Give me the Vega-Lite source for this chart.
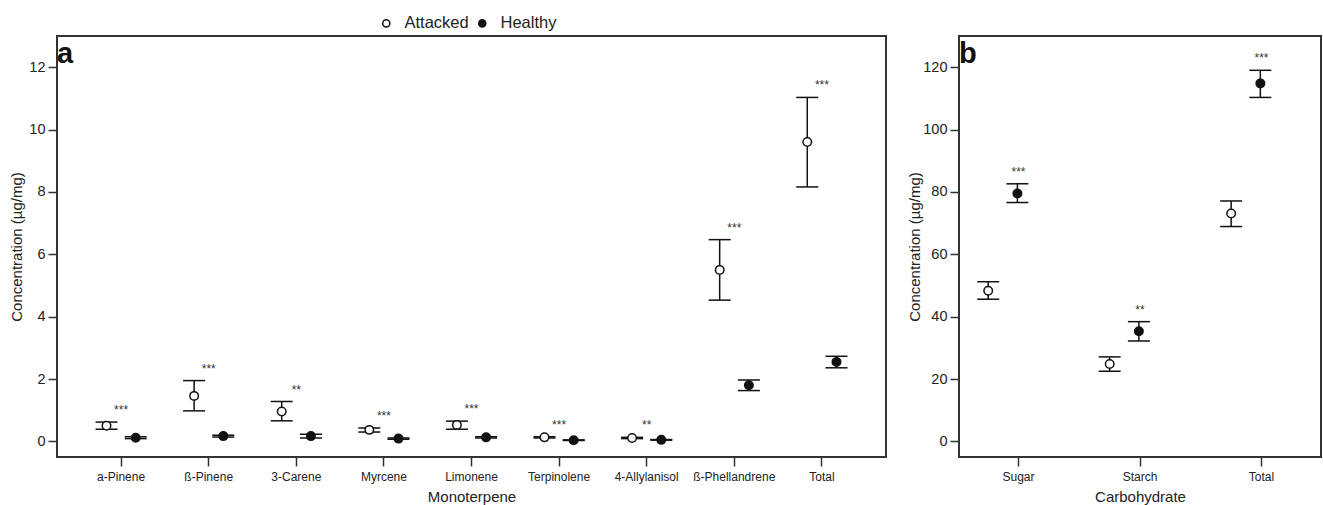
{
  "$schema": "https://vega.github.io/schema/vega-lite/v6.json",
  "background": "white",
  "padding": {"left": 8, "top": 15, "right": 2, "bottom": 2},
  "datasets": {
    "mono": [
      {"cat": "a-Pinene", "group": "Attacked", "mean": 0.50, "lo": 0.39, "hi": 0.62},
      {"cat": "a-Pinene", "group": "Healthy", "mean": 0.12, "lo": 0.09, "hi": 0.15},
      {"cat": "ß-Pinene", "group": "Attacked", "mean": 1.46, "lo": 0.98, "hi": 1.95},
      {"cat": "ß-Pinene", "group": "Healthy", "mean": 0.17, "lo": 0.14, "hi": 0.20},
      {"cat": "3-Carene", "group": "Attacked", "mean": 0.96, "lo": 0.66, "hi": 1.28},
      {"cat": "3-Carene", "group": "Healthy", "mean": 0.17, "lo": 0.11, "hi": 0.23},
      {"cat": "Myrcene", "group": "Attacked", "mean": 0.37, "lo": 0.30, "hi": 0.43},
      {"cat": "Myrcene", "group": "Healthy", "mean": 0.09, "lo": 0.07, "hi": 0.11},
      {"cat": "Limonene", "group": "Attacked", "mean": 0.53, "lo": 0.39, "hi": 0.65},
      {"cat": "Limonene", "group": "Healthy", "mean": 0.13, "lo": 0.11, "hi": 0.15},
      {"cat": "Terpinolene", "group": "Attacked", "mean": 0.13, "lo": 0.11, "hi": 0.15},
      {"cat": "Terpinolene", "group": "Healthy", "mean": 0.04, "lo": 0.03, "hi": 0.05},
      {"cat": "4-Allylanisol", "group": "Attacked", "mean": 0.11, "lo": 0.09, "hi": 0.13},
      {"cat": "4-Allylanisol", "group": "Healthy", "mean": 0.05, "lo": 0.04, "hi": 0.06},
      {"cat": "ß-Phellandrene", "group": "Attacked", "mean": 5.50, "lo": 4.53, "hi": 6.47},
      {"cat": "ß-Phellandrene", "group": "Healthy", "mean": 1.80, "lo": 1.63, "hi": 1.97},
      {"cat": "Total", "group": "Attacked", "mean": 9.60, "lo": 8.16, "hi": 11.03},
      {"cat": "Total", "group": "Healthy", "mean": 2.55, "lo": 2.36, "hi": 2.73}
    ],
    "monoSig": [
      {"cat": "a-Pinene", "y": 1.11, "label": "***"},
      {"cat": "ß-Pinene", "y": 2.42, "label": "***"},
      {"cat": "3-Carene", "y": 1.76, "label": "**"},
      {"cat": "Myrcene", "y": 0.91, "label": "***"},
      {"cat": "Limonene", "y": 1.14, "label": "***"},
      {"cat": "Terpinolene", "y": 0.62, "label": "***"},
      {"cat": "4-Allylanisol", "y": 0.62, "label": "**"},
      {"cat": "ß-Phellandrene", "y": 6.94, "label": "***"},
      {"cat": "Total", "y": 11.52, "label": "***"}
    ],
    "carb": [
      {"cat": "Sugar", "group": "Attacked", "mean": 48.3, "lo": 45.6, "hi": 51.2},
      {"cat": "Sugar", "group": "Healthy", "mean": 79.5, "lo": 76.6, "hi": 82.6},
      {"cat": "Starch", "group": "Attacked", "mean": 24.8, "lo": 22.5, "hi": 27.1},
      {"cat": "Starch", "group": "Healthy", "mean": 35.3, "lo": 32.2, "hi": 38.4},
      {"cat": "Total", "group": "Attacked", "mean": 73.1, "lo": 68.9, "hi": 77.1},
      {"cat": "Total", "group": "Healthy", "mean": 114.8, "lo": 110.3, "hi": 119.0}
    ],
    "carbSig": [
      {"cat": "Sugar", "y": 87.4, "label": "***"},
      {"cat": "Starch", "y": 43.2, "label": "**"},
      {"cat": "Total", "y": 124.0, "label": "***"}
    ]
  },
  "hconcat": [
    {
      "width": 829,
      "height": 421,
      "encoding": {
        "x": {"field": "cat", "type": "nominal", "title": "Monoterpene",
              "scale": {"type": "band", "domain": ["a-Pinene", "ß-Pinene", "3-Carene", "Myrcene", "Limonene", "Terpinolene", "4-Allylanisol", "ß-Phellandrene", "Total"], "paddingInner": 0, "paddingOuter": 0.232},
              "axis": {"labelAngle": 0, "labelFontSize": 12, "labelPadding": 5, "titleFontSize": 15, "titlePadding": 7}}
      },
      "layer": [
        {
          "data": {"name": "mono"},
          "mark": {"type": "rule", "stroke": "#111", "strokeWidth": 1.5},
          "encoding": {
            "xOffset": {"field": "group", "type": "nominal", "scale": {"type": "point", "domain": ["Attacked", "Healthy"], "padding": 1.49}},
            "y": {"field": "lo", "type": "quantitative", "title": "Concentration (µg/mg)",
                  "scale": {"domain": [-0.5, 13], "nice": false, "zero": false},
                  "axis": {"values": [0, 2, 4, 6, 8, 10, 12], "labelFontSize": 14.5, "titleFontSize": 15, "titleX": -33, "titleBaseline": "bottom", "titleAngle": -90}},
            "y2": {"field": "hi"}
          }
        },
        {
          "data": {"name": "mono"},
          "mark": {"type": "tick", "orient": "horizontal", "size": 22, "thickness": 1.5, "color": "#111", "opacity": 1},
          "encoding": {
            "xOffset": {"field": "group", "type": "nominal"},
            "y": {"field": "lo", "type": "quantitative"}
          }
        },
        {
          "data": {"name": "mono"},
          "mark": {"type": "tick", "orient": "horizontal", "size": 22, "thickness": 1.5, "color": "#111", "opacity": 1},
          "encoding": {
            "xOffset": {"field": "group", "type": "nominal"},
            "y": {"field": "hi", "type": "quantitative"}
          }
        },
        {
          "data": {"name": "mono"},
          "mark": {"type": "point", "shape": "circle", "filled": true, "size": 72, "stroke": "#111", "strokeWidth": 1.5, "opacity": 1},
          "encoding": {
            "xOffset": {"field": "group", "type": "nominal"},
            "y": {"field": "mean", "type": "quantitative"},
            "fill": {"field": "group", "type": "nominal", "title": null,
                     "scale": {"domain": ["Attacked", "Healthy"], "range": ["white", "#111"]},
                     "legend": {"orient": "none", "direction": "horizontal", "legendX": 321, "legendY": -21, "symbolType": "circle", "symbolSize": 50, "symbolStrokeColor": "#111", "symbolStrokeWidth": 1.5, "labelFontSize": 16.5, "labelColor": "#222", "labelOffset": 10, "columnPadding": 5}}
          }
        },
        {
          "data": {"name": "monoSig"},
          "mark": {"type": "text", "fontSize": 12, "color": "#333", "baseline": "alphabetic", "dy": 7},
          "encoding": {
            "y": {"field": "y", "type": "quantitative"},
            "text": {"field": "label"}
          }
        },
        {
          "data": {"values": [{"panel": "a"}]},
          "mark": {"type": "text", "fontSize": 29, "fontWeight": "bold", "color": "#111", "align": "left", "baseline": "alphabetic", "x": 7, "y": 27},
          "encoding": {"text": {"field": "panel"}}
        }
      ]
    },
    {
      "width": 362,
      "height": 421,
      "encoding": {
        "x": {"field": "cat", "type": "nominal", "title": "Carbohydrate",
              "scale": {"type": "band", "domain": ["Sugar", "Starch", "Total"], "paddingInner": 0.02, "paddingOuter": 0},
              "axis": {"labelAngle": 0, "labelFontSize": 12, "labelPadding": 5, "titleFontSize": 15, "titlePadding": 7}}
      },
      "layer": [
        {
          "data": {"name": "carb"},
          "mark": {"type": "rule", "stroke": "#111", "strokeWidth": 1.5},
          "encoding": {
            "xOffset": {"field": "group", "type": "nominal", "scale": {"type": "point", "domain": ["Attacked", "Healthy"], "padding": 1.46}},
            "y": {"field": "lo", "type": "quantitative", "title": "Concentration (µg/mg)",
                  "scale": {"domain": [-5, 130], "nice": false, "zero": false},
                  "axis": {"values": [0, 20, 40, 60, 80, 100, 120], "labelFontSize": 14.5, "titleFontSize": 15, "titleX": -37, "titleBaseline": "bottom", "titleAngle": -90}},
            "y2": {"field": "hi"}
          }
        },
        {
          "data": {"name": "carb"},
          "mark": {"type": "tick", "orient": "horizontal", "size": 22, "thickness": 1.5, "color": "#111", "opacity": 1},
          "encoding": {
            "xOffset": {"field": "group", "type": "nominal"},
            "y": {"field": "lo", "type": "quantitative"}
          }
        },
        {
          "data": {"name": "carb"},
          "mark": {"type": "tick", "orient": "horizontal", "size": 22, "thickness": 1.5, "color": "#111", "opacity": 1},
          "encoding": {
            "xOffset": {"field": "group", "type": "nominal"},
            "y": {"field": "hi", "type": "quantitative"}
          }
        },
        {
          "data": {"name": "carb"},
          "mark": {"type": "point", "shape": "circle", "filled": true, "size": 72, "stroke": "#111", "strokeWidth": 1.5, "opacity": 1},
          "encoding": {
            "xOffset": {"field": "group", "type": "nominal"},
            "y": {"field": "mean", "type": "quantitative"},
            "fill": {"field": "group", "type": "nominal", "title": null}
          }
        },
        {
          "data": {"name": "carbSig"},
          "mark": {"type": "text", "fontSize": 12, "color": "#333", "baseline": "alphabetic", "dy": 7},
          "encoding": {
            "y": {"field": "y", "type": "quantitative"},
            "text": {"field": "label"}
          }
        },
        {
          "data": {"values": [{"panel": "b"}]},
          "mark": {"type": "text", "fontSize": 29, "fontWeight": "bold", "color": "#111", "align": "left", "baseline": "alphabetic", "x": 8, "y": 27},
          "encoding": {"text": {"field": "panel"}}
        }
      ]
    }
  ],
  "spacing": 19,
  "resolve": {"scale": {"fill": "shared"}, "legend": {"fill": "shared"}},
  "config": {
    "font": "Liberation Sans",
    "view": {"stroke": "#333", "strokeWidth": 2},
    "axis": {"domain": false, "grid": false, "tickColor": "#333", "tickWidth": 1.5, "tickSize": 9, "labelPadding": 3, "labelColor": "#222", "titleColor": "#222", "titleFontWeight": "normal", "labelFont": "Liberation Sans", "titleFont": "Liberation Sans"},
    "legend": {"labelFont": "Liberation Sans"},
    "title": {"font": "Liberation Sans"}
  }
}
